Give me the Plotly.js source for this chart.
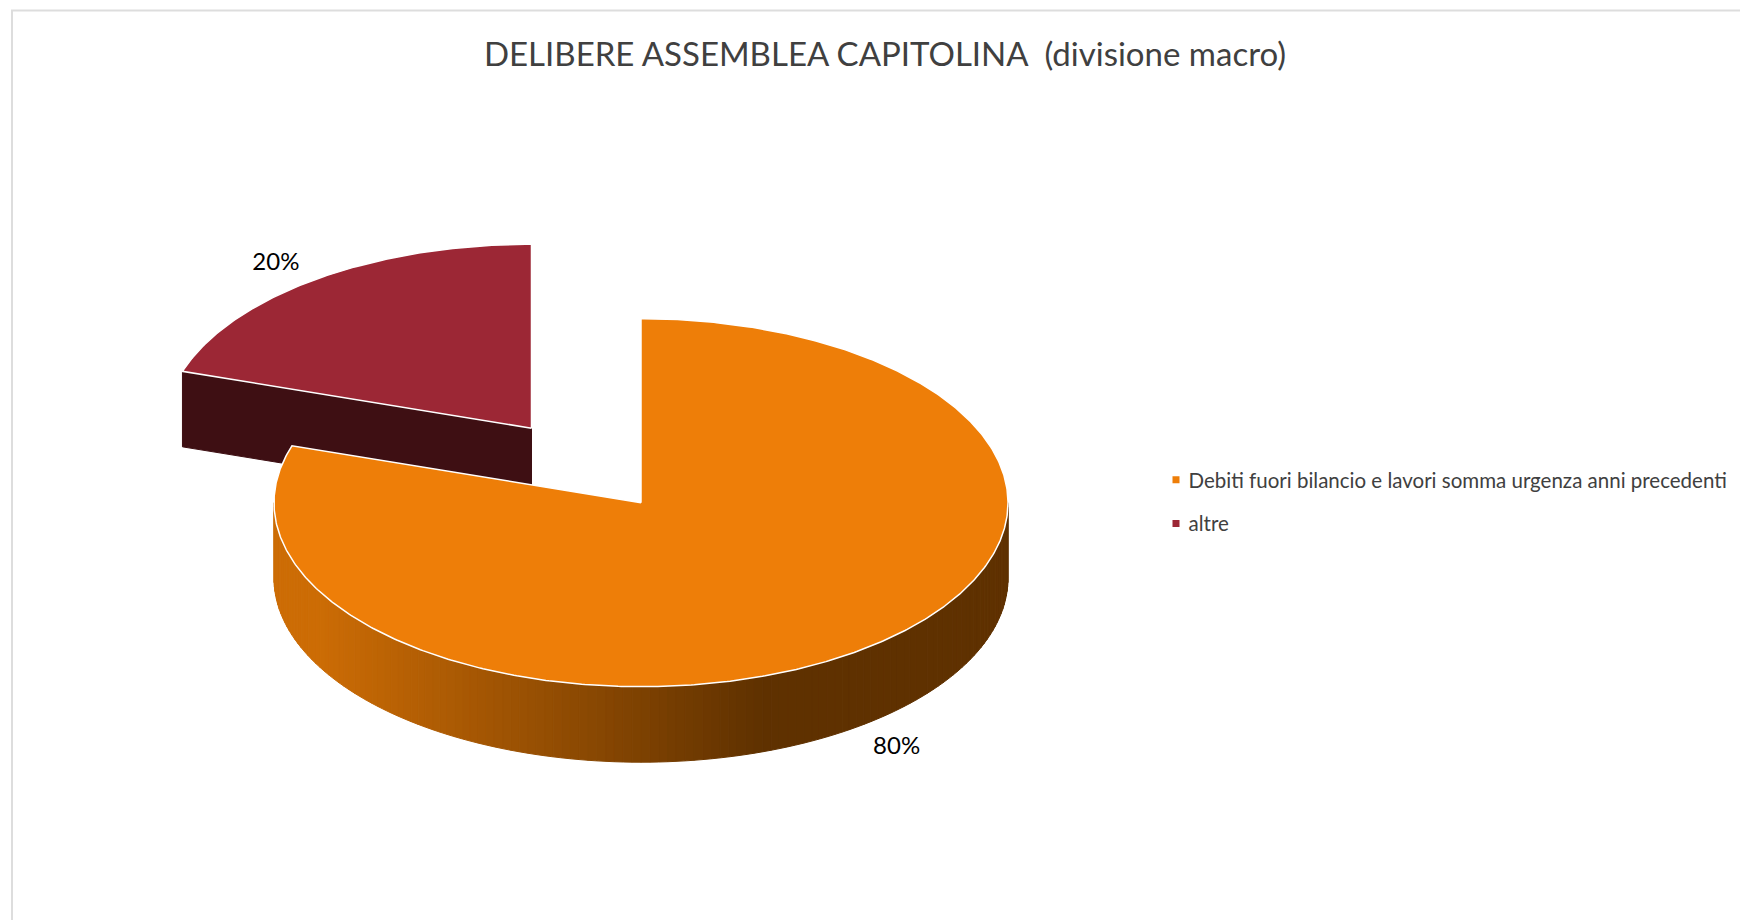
<!DOCTYPE html>
<html>
<head>
<meta charset="utf-8">
<script src="https://cdn.plot.ly/plotly-3.0.1.min.js"></script>
<style>html,body{margin:0;padding:0;background:#fff;overflow:hidden}#chart{width:1740px;height:920px}</style>
</head>
<body>
<div id="chart"></div>
<script>
// Data
const chartTitle = 'DELIBERE ASSEMBLEA CAPITOLINA  (divisione macro)';
const categories = ['Debiti fuori bilancio e lavori somma urgenza anni precedenti', 'altre'];
const values = [80, 20];

// Styles and pie projection (axes run in page pixels, y downwards)
const topColors = ['#EE7E08', '#9C2735'];
const sideDark = '#3E0F13';
const wallLeft = [204, 108, 5], wallRight = [95, 49, 0];
const wallGradientStart = 320, wallGradientEnd = 763;
const center = [641, 502.7], redShift = [-109.5, -74.5];
const rx = 367, ry = 184, depth = 75.5;
const total = values.reduce((a, b) => a + b, 0);
const sweep = values.map(v => v / total * 2 * Math.PI);

const pt = (c, a, dy = 0) => [c[0] + rx * Math.sin(a), c[1] - ry * Math.cos(a) + dy];
function arc(c, a0, a1, dy = 0) {
  const n = Math.max(2, Math.ceil(Math.abs(a1 - a0) * 120));
  const out = [];
  for (let i = 0; i <= n; i++) out.push(pt(c, a0 + (a1 - a0) * i / n, dy));
  return out;
}
function poly(points, color, lineColor, lineWidth) {
  return {
    type: 'scatter', mode: 'lines', x: points.map(p => p[0]), y: points.map(p => p[1]),
    fill: 'toself', fillcolor: color, line: {color: lineColor || color, width: lineWidth || 1},
    showlegend: false, hoverinfo: 'skip'
  };
}

const traces = [];
const redCenter = [center[0] + redShift[0], center[1] + redShift[1]];
const redStart = -sweep[1];

// Exploded slice: cut face, then top
const a = pt(redCenter, redStart), b = redCenter;
traces.push(poly([a, b, [b[0], b[1] + depth], [a[0], a[1] + depth], a], sideDark));
traces.push(poly([b, ...arc(redCenter, redStart, 0), b], topColors[1], '#FFFFFF', 1.5));

// Main slice: curved wall in vertical strips, shaded left to right
const strips = 130;
for (let i = 0; i < strips; i++) {
  const a0 = -Math.PI / 2 - i * Math.PI / strips;
  const a1 = -Math.PI / 2 - (i + 1) * Math.PI / strips;
  const top = arc(center, a0, a1), bot = arc(center, a1, a0, depth);
  const midX = pt(center, (a0 + a1) / 2)[0];
  const t = Math.min(1, Math.max(0, (midX - wallGradientStart) / (wallGradientEnd - wallGradientStart)));
  const col = 'rgb(' + wallLeft.map((c, k) => Math.round(c + (wallRight[k] - c) * t)).join(',') + ')';
  traces.push(poly([...top, ...bot, top[0]], col));
}
traces.push(poly([center, ...arc(center, 0, sweep[0]), center], topColors[0], '#FFFFFF', 1.5));

// Percent labels beside each slice
const labelFx = 1.185, labelFy = 1.12, labelDrop = 3;
const mids = [sweep[0] / 2, -sweep[1] / 2];
const labelC = [center, redCenter];
traces.push({
  type: 'scatter', mode: 'text',
  x: mids.map((m, i) => labelC[i][0] + labelFx * rx * Math.sin(m)),
  y: mids.map((m, i) => labelC[i][1] - labelFy * ry * Math.cos(m) + (Math.cos(m) < 0 ? depth : 0) + labelDrop),
  text: values.map(v => Math.round(v / total * 100) + '%'),
  textposition: 'middle center',
  textfont: {family: 'Lato', size: 24, color: '#000000'},
  showlegend: false, hoverinfo: 'skip'
});

// Legend entries
categories.forEach((name, i) => traces.push({
  type: 'scatter', mode: 'markers', x: [null], y: [null], name: name,
  legendgroup: name, marker: {symbol: 'square', size: 7, color: topColors[i]}
}));

const layout = {
  width: 1740, height: 920,
  margin: {l: 0, r: 0, t: 0, b: 0},
  paper_bgcolor: '#FFFFFF', plot_bgcolor: '#FFFFFF',
  xaxis: {range: [0, 1740], visible: false, fixedrange: true},
  yaxis: {range: [920, 0], visible: false, fixedrange: true},
  title: {
    text: chartTitle, x: 885 / 1740, xanchor: 'center', y: 1 - 54 / 920, yanchor: 'middle',
    font: {family: 'Lato', size: 33, color: '#404040'}
  },
  legend: {
    x: 1158.5 / 1740, y: 1 - 460 / 920, xanchor: 'left', yanchor: 'top',
    traceorder: 'grouped', tracegroupgap: 14, indentation: -10,
    font: {family: 'Lato', size: 20.5, color: '#404040'},
    bgcolor: 'rgba(0,0,0,0)', borderwidth: 0
  },
  shapes: [{type: 'rect', xref: 'x', yref: 'y', x0: 12, y0: 10.5, x1: 1760, y1: 940,
    line: {color: '#DDDDDD', width: 2}, fillcolor: 'rgba(0,0,0,0)', layer: 'below'}],
  showlegend: true
};
Plotly.newPlot('chart', traces, layout, {displayModeBar: false, staticPlot: true}).then(gd => {
  // Legend swatches sit closer to their text than Plotly's fixed item width allows
  gd.querySelectorAll('.legend .legendsymbols').forEach(s => {
    s.setAttribute('transform', 'translate(7.5,0)');
  });
});
</script>
</body>
</html>
